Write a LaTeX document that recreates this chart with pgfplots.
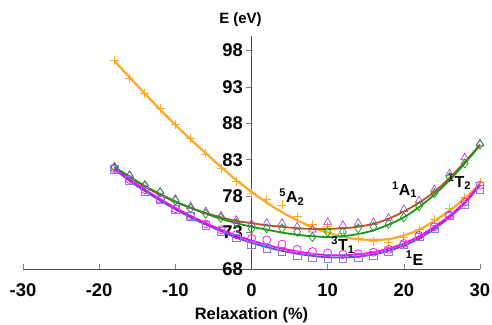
\documentclass[border=0pt]{standalone}
\usepackage{pgfplots}
\pgfplotsset{compat=1.18}
\usepackage{pgfplotstable}
\usepackage{fontspec}
\setmainfont{Liberation Sans}
\definecolor{orangeC}{RGB}{255,168,35}
\definecolor{brownC}{RGB}{185,85,30}
\definecolor{greenC}{RGB}{25,150,25}
\definecolor{magC}{RGB}{255,0,255}
\definecolor{blueC}{RGB}{90,80,210}
\definecolor{sqC}{RGB}{140,120,225}
\definecolor{triC}{RGB}{170,70,200}
\pgfplotstableread{
x    oM    oC    aM    aC    dM    dC    cM    cC    sM    sC
-18 96.7 96.6 82.0 82.0 82.0 82.0 81.8 81.8 81.7 81.7
-16 94.2 94.3 80.9 80.6 80.8 80.7 80.3 80.3 80.2 80.1
-14 92.1 92.1 79.5 79.3 79.5 79.4 78.9 78.9 78.7 78.7
-12 90.0 89.9 78.6 78.2 78.5 78.3 77.6 77.6 77.5 77.4
-10 87.8 87.8 77.6 77.2 77.4 77.3 76.3 76.4 76.2 76.2
-8 85.9 85.8 76.6 76.4 76.3 76.4 75.3 75.3 75.2 75.1
-6 83.8 83.9 75.9 75.7 75.6 75.6 74.2 74.3 74.0 74.1
-4 81.8 82.0 75.3 75.1 75.0 74.9 73.4 73.4 73.2 73.2
-2 80.0 80.2 74.7 74.6 74.3 74.3 72.7 72.6 72.3 72.3
0 78.4 78.6 74.2 74.3 73.5 73.8 72.2 71.9 71.3 71.6
2 77.6 77.1 74.3 74.0 73.6 73.4 72.0 71.3 70.8 71.0
4 76.8 75.8 74.3 73.8 73.6 73.0 71.4 70.8 70.4 70.5
6 75.2 74.7 73.8 73.6 73.1 72.7 70.7 70.4 69.9 70.1
8 74.1 73.7 73.4 73.5 72.4 72.5 70.4 70.1 69.6 69.8
10 73.8 73.0 74.4 73.5 73.1 72.4 70.2 69.9 69.5 69.6
12 72.9 72.4 74.0 73.6 73.1 72.5 70.0 69.9 69.5 69.6
14 72.2 72.1 74.3 73.8 73.6 72.8 70.1 70.0 69.6 69.7
16 71.8 72.0 74.4 74.2 73.8 73.3 70.3 70.3 69.9 70.0
18 71.7 72.1 75.0 74.9 74.2 74.1 70.7 70.8 70.4 70.5
20 72.4 72.6 76.2 75.9 75.1 75.1 71.5 71.5 71.3 71.2
22 73.4 73.4 77.4 77.1 76.6 76.5 72.6 72.5 72.4 72.2
24 74.8 74.6 78.9 78.6 78.4 78.2 73.8 73.8 73.5 73.5
26 76.3 76.0 81.1 80.5 80.6 80.2 75.4 75.3 75.3 75.1
28 77.8 77.7 83.3 82.7 82.5 82.5 77.2 77.2 76.8 77.0
30 79.9 79.7 85.2 85.1 85.1 85.0 79.5 79.7 78.9 79.5
}\data
\begin{document}
\begin{tikzpicture}
\path[use as bounding box] (0,0) rectangle (492bp,325bp);
\begin{axis}[
  at={(23bp,56bp)}, anchor=south west,
  scale only axis, width=457bp, height=233bp,
  xmin=-30, xmax=30, ymin=68, ymax=100,
  axis x line=bottom, axis y line=center,
  axis line style={-, black!70, line width=0.8pt},
  xtick={-30,-20,...,30}, ytick={68,73,...,98},
  hide obscured x ticks=false, hide obscured y ticks=false,
  major tick length=5bp,
  xtick align=inside, ytick align=outside,
  tick style={black!50, line width=0.6pt},
  /pgf/number format/assume math mode=true,
  ticklabel style={font=\fontsize{18.5}{18.5}\selectfont\bfseries},
  xticklabel style={anchor=base, yshift=-27bp},
  clip=false,
]
\addplot[only marks, mark=+, mark size=4.5bp, orangeC, line width=0.8pt] table[x=x,y=oM]{\data};
\addplot[only marks, mark=triangle, mark size=4.5bp, triC, line width=0.7pt] table[x=x,y=aM]{\data};
\addplot[only marks, mark=diamond, mark size=4.5bp, greenC, line width=0.7pt] table[x=x,y=dM]{\data};
\addplot[only marks, mark=o, mark size=4bp, magC, line width=0.7pt] table[x=x,y=cM]{\data};
\addplot[only marks, mark=square, mark size=3.8bp, sqC, line width=0.7pt] table[x=x,y=sM]{\data};
\addplot[smooth, no marks, orangeC, line width=2.2pt] table[x=x,y=oC]{\data};
\addplot[smooth, no marks, brownC, line width=1.8pt] table[x=x,y=aC]{\data};
\addplot[smooth, no marks, greenC, line width=1.8pt] table[x=x,y=dC]{\data};
\addplot[smooth, no marks, blueC, line width=1.8pt] table[x=x,y=sC]{\data};
\addplot[smooth, no marks, magC, line width=1.8pt] table[x=x,y=cC]{\data};
\node[font=\fontsize{15}{15}\selectfont\bfseries, anchor=base, xshift=-11bp, yshift=12bp] at (axis cs:0,100) {E (eV)};
\node[font=\fontsize{16.5}{16.5}\selectfont\bfseries, anchor=base, yshift=-50bp] at (axis cs:0,68) {Relaxation (\%)};
\node[font=\fontsize{16}{16}\selectfont\bfseries] at (axis cs:5.3,77.9) {\textsuperscript{5}A\textsubscript{2}};
\node[font=\fontsize{16}{16}\selectfont\bfseries] at (axis cs:20.1,78.9) {\textsuperscript{1}A\textsubscript{1}};
\node[font=\fontsize{16}{16}\selectfont\bfseries] at (axis cs:27.3,80.0) {\textsuperscript{1}T\textsubscript{2}};
\node[font=\fontsize{16}{16}\selectfont\bfseries] at (axis cs:12.0,71.3) {\textsuperscript{3}T\textsubscript{1}};
\node[font=\fontsize{16}{16}\selectfont\bfseries] at (axis cs:21.4,69.5) {\textsuperscript{1}E};
\end{axis}
\end{tikzpicture}
\end{document}
